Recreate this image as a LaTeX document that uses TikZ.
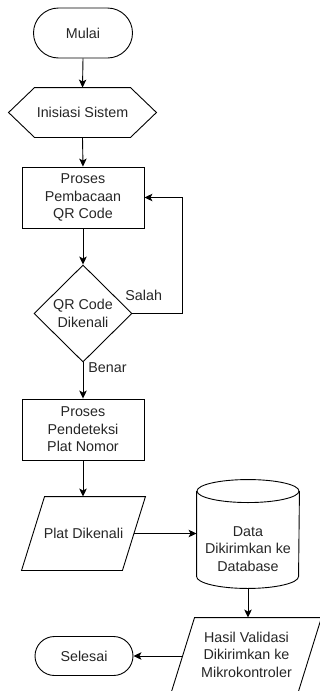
\documentclass[tikz,border=0pt]{standalone}
\usepackage{fontspec}
\setmainfont{Liberation Sans}
\usetikzlibrary{arrows.meta,shapes.geometric,calc}
\begin{document}
\begin{tikzpicture}[x=1pt,y=-1pt,line width=0.9pt,
  txt/.style={font=\fontsize{14.3}{17.5}\selectfont, align=center, text=black!85, inner sep=0pt},
  term/.style={txt, draw, rectangle},
  procbox/.style={txt, draw, rectangle, minimum width=122pt, minimum height=61pt},
  ghost/.style={txt, rectangle, draw=none},
  decision/.style={txt, draw, diamond, minimum width=98pt, minimum height=97pt},
  arr/.style={-{Stealth[length=8pt,width=7.5pt,inset=2pt]}},
  lbl/.style={font=\fontsize{14.3}{17.5}\selectfont, text=black!85, inner sep=0pt}
]
\useasboundingbox (0,0) rectangle (320,691);
\clip (0,0) rectangle (320,691);

% nodes
\node[term, minimum width=99pt, minimum height=50pt, rounded corners=25pt] (mulai) at (83,33) {Mulai};
\node[ghost, minimum width=147pt, minimum height=49pt] (init) at (82.5,112.5) {Inisiasi Sistem};
\node[procbox] (b1) at (83,197.5) {Proses\\Pembacaan\\QR Code};
\node[decision] (dk) at (83,313.5) {QR Code\\Dikenali};
\node[procbox] (b2) at (83,429.5) {Proses\\Pendeteksi\\Plat Nomor};
\node[ghost, minimum width=123pt, minimum height=73pt] (plat) at (83.5,533.5) {Plat Dikenali};
\node[ghost, minimum width=102pt, minimum height=108pt,
  label={[txt, yshift=-15pt]center:{Data\\Dikirimkan ke\\Database}}] (db) at (248,534) {};
\node[ghost, minimum width=149pt, minimum height=73pt] (hasil) at (246.5,654.5) {Hasil Validasi\\Dikirimkan ke\\Mikrokontroler};
\node[term, minimum width=98pt, minimum height=39pt, rounded corners=19.5pt] (selesai) at (84,656) {Selesai};

% outlines
\draw (init.west) -- ([xshift=26pt]init.north west) -- ([xshift=-26pt]init.north east)
  -- (init.east) -- ([xshift=-26pt]init.south east) -- ([xshift=26pt]init.south west) -- cycle;
\draw ([xshift=23pt]plat.north west) -- (plat.north east) -- ([xshift=-23pt]plat.south east)
  -- (plat.south west) -- cycle;
\draw ([xshift=23pt]hasil.north west) -- (hasil.north east) -- ([xshift=-23pt]hasil.south east)
  -- (hasil.south west) -- cycle;
% cylinder
\draw ([yshift=-11.5pt]db.north west) -- ([yshift=12pt]db.south west)
  arc[start angle=180, end angle=360, x radius=51pt, y radius=12pt]
  -- ([yshift=-11.5pt]db.north east);
\draw ([yshift=-11.5pt]db.north) ellipse[x radius=51pt, y radius=11.5pt];

\coordinate (platR) at ([xshift=-11.5pt]plat.east);
\coordinate (hasilL) at ([xshift=11.5pt]hasil.west);

% connectors
\draw[arr] (mulai.south) -- (init.north);
\draw[arr] (init.south) -- (b1.north);
\draw[arr] (b1.south) -- (dk.north);
\draw[arr] (dk.east) -- ++(50,0) |- (b1.east);
\node[lbl, anchor=west] (salah) at (125,295) {Salah};
\draw[arr] (dk.south) -- (b2.north);
\node[lbl, anchor=west] (benar) at (88,368) {Benar};
\draw[arr] (b2.south) -- (b2.south |- plat.north);
\draw[arr] (platR) -- (db.west |- platR);
\draw[arr] (db.south) -- (db.south |- hasil.north);
\draw[arr] (hasilL |- selesai.east) -- (selesai.east);
\end{tikzpicture}
\end{document}
